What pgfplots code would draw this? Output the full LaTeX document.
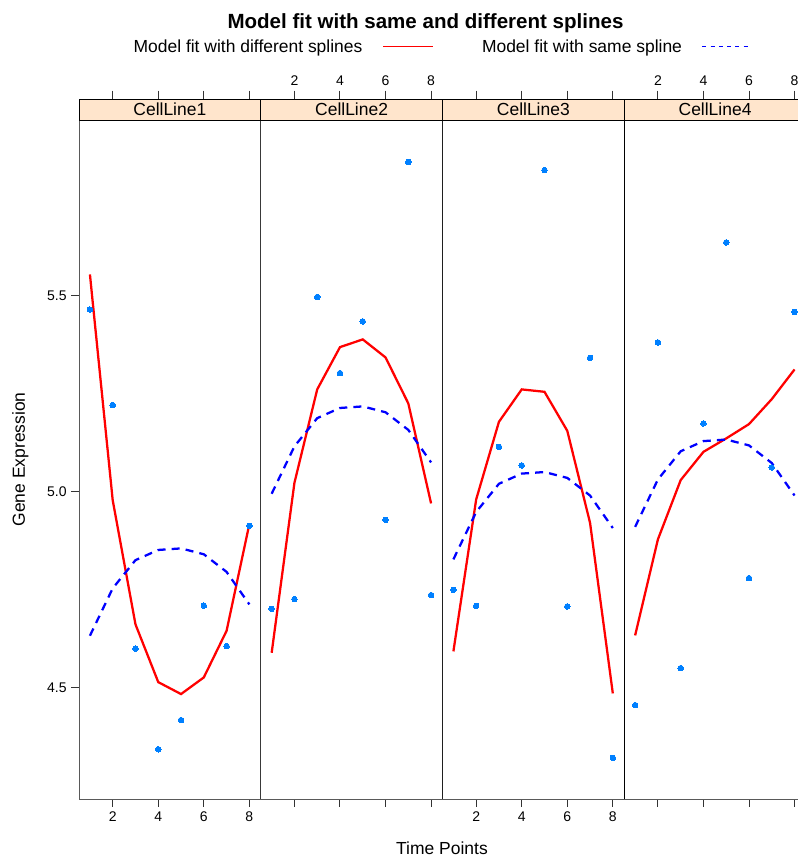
\documentclass[border=0pt]{standalone}
\usepackage{fontspec}
\setmainfont{Liberation Sans}
\usepackage{pgfplots}
\usepackage{pgfplotstable}
\pgfplotsset{compat=1.18}

\definecolor{ptblue}{HTML}{0080FF}
\definecolor{stripbg}{HTML}{FFE5CC}
\newcommand\ticksize{\fontsize{10.5}{12}\selectfont}
\newcommand\labsize{\fontsize{13.1}{15}\selectfont}

% t, observed value, fit with different splines, fit with same spline
\pgfplotstableread{
t y fdiff fsame
1 5.465  5.5546 4.632
2 5.221  4.978  4.753
3 4.599  4.661  4.825
4 4.342  4.5135 4.851
5 4.4165 4.483  4.855
6 4.709  4.5255 4.840
7 4.6055 4.6445 4.795
8 4.9127 4.917  4.712
}\cellA
\pgfplotstableread{
t y fdiff fsame
1 4.7007 4.5884 4.9946
2 4.7255 5.0225 5.1156
3 5.497  5.261  5.1876
4 5.3026 5.369  5.2136
5 5.4346 5.3887 5.2176
6 4.928  5.3427 5.2026
7 5.842  5.2252 5.1576
8 4.7357 4.9699 5.0746
}\cellB
\pgfplotstableread{
t y fdiff fsame
1 4.7492 4.592  4.827
2 4.7084 4.980  4.948
3 5.1144 5.1783 5.020
4 5.0669 5.261  5.046
5 5.821  5.2549 5.050
6 4.7068 5.1553 5.035
7 5.3417 4.9203 4.990
8 4.3202 4.4847 4.907
}\cellC
\pgfplotstableread{
t y fdiff fsame
1 4.4548 4.6328 4.910
2 5.381  4.878  5.031
3 4.5493 5.0294 5.103
4 5.1742 5.1016 5.129
5 5.6364 5.1359 5.133
6 4.7791 5.1724 5.118
7 5.0618 5.2362 5.073
8 5.459  5.312  4.990
}\cellD

\pgfplotsset{
  panel/.style={
    at={(#1,-90pt)}, anchor=north west,
    scale only axis, width=136.3pt, height=509.25pt,
    xmin=0.52, xmax=8.5, ymin=4.215, ymax=5.949,
    xtick={2,4,6,8}, xtick pos=lower, ytick pos=left,
    tick align=outside, major tick length=5.8pt,
    axis line style={black!65, line width=0.75pt},
    tick style={black!80, line width=0.75pt},
    ticklabel style={font=\ticksize},
    /pgf/number format/assume math mode=true,
  },
  strip/.style={
    at={(#1,-74.25pt)}, anchor=north west,
    scale only axis, width=136.3pt, height=15.75pt,
    xmin=0.52, xmax=8.5, ymin=0, ymax=1,
    ytick=\empty, xtick={2,4,6,8}, xtick pos=upper,
    tick align=outside, major tick length=6.3pt,
    axis background/.style={fill=stripbg},
    axis line style={black, line width=0.75pt},
    tick style={black!80, line width=0.75pt},
    ticklabel style={font=\ticksize},
    /pgf/number format/assume math mode=true,
  },
  obs/.style={ptblue, only marks, mark=*, mark size=2.1pt,
    mark options={draw=ptblue, fill=ptblue, line width=0pt}},
  fitdiff/.style={red, line width=1.7pt, no marks},
  fitsame/.style={blue, line width=1.7pt, no marks, dash pattern=on 6pt off 4.6pt},
}

\begin{document}
\begin{tikzpicture}
\useasboundingbox (0pt,-642.75pt) rectangle (597.75pt,0pt);

\node[anchor=base, font=\bfseries\fontsize{15.4}{18}\selectfont] at (319.1pt,-21.2pt) {Model fit with same and different splines};
\node[anchor=base west, font=\labsize, inner sep=0pt] at (100pt,-39.5pt) {Model fit with different splines};
\draw[red, line width=0.75pt] (287.5pt,-34.7pt) -- (324.5pt,-34.7pt);
\node[anchor=base west, font=\labsize, inner sep=0pt] at (361.3pt,-39.5pt) {Model fit with same spline};
\draw[blue, line width=0.75pt, dash pattern=on 3pt off 3.2pt] (526.7pt,-34.5pt) -- (562.5pt,-34.5pt);

% panel 1
\begin{axis}[panel=59.25pt, ytick={4.5,5,5.5}, yticklabels={4.5,5.0,5.5}]
\addplot[obs] table[x=t, y=y] {\cellA};
\addplot[fitdiff] table[x=t, y=fdiff] {\cellA};
\addplot[fitsame] table[x=t, y=fsame] {\cellA};
\end{axis}
\begin{axis}[strip=59.25pt, xticklabels={}]
\node[font=\labsize] at (rel axis cs:0.5,0.5) {CellLine1};
\end{axis}

% panel 2
\begin{axis}[panel=195.55pt, ytick=\empty, xticklabels={}]
\addplot[obs] table[x=t, y=y] {\cellB};
\addplot[fitdiff] table[x=t, y=fdiff] {\cellB};
\addplot[fitsame] table[x=t, y=fsame] {\cellB};
\draw[black, line width=0.75pt] (rel axis cs:0,0) -- (rel axis cs:0,1);
\end{axis}
\begin{axis}[strip=195.55pt]
\node[font=\labsize] at (rel axis cs:0.5,0.5) {CellLine2};
\end{axis}

% panel 3
\begin{axis}[panel=331.85pt, ytick=\empty]
\addplot[obs] table[x=t, y=y] {\cellC};
\addplot[fitdiff] table[x=t, y=fdiff] {\cellC};
\addplot[fitsame] table[x=t, y=fsame] {\cellC};
\draw[black, line width=0.75pt] (rel axis cs:0,0) -- (rel axis cs:0,1);
\end{axis}
\begin{axis}[strip=331.85pt, xticklabels={}]
\node[font=\labsize] at (rel axis cs:0.5,0.5) {CellLine3};
\end{axis}

% panel 4
\begin{axis}[panel=468.15pt, ytick=\empty, xticklabels={}]
\addplot[obs] table[x=t, y=y] {\cellD};
\addplot[fitdiff] table[x=t, y=fdiff] {\cellD};
\addplot[fitsame] table[x=t, y=fsame] {\cellD};
\draw[black, line width=0.75pt] (rel axis cs:0,0) -- (rel axis cs:0,1);
\end{axis}
\begin{axis}[strip=468.15pt]
\node[font=\labsize] at (rel axis cs:0.5,0.5) {CellLine4};
\end{axis}

\node[font=\labsize, anchor=center, inner sep=0pt] at (331.5pt,-636.3pt) {Time Points};
\node[font=\labsize, rotate=90, anchor=base] at (18.7pt,-344.6pt) {Gene Expression};
\end{tikzpicture}
\end{document}
